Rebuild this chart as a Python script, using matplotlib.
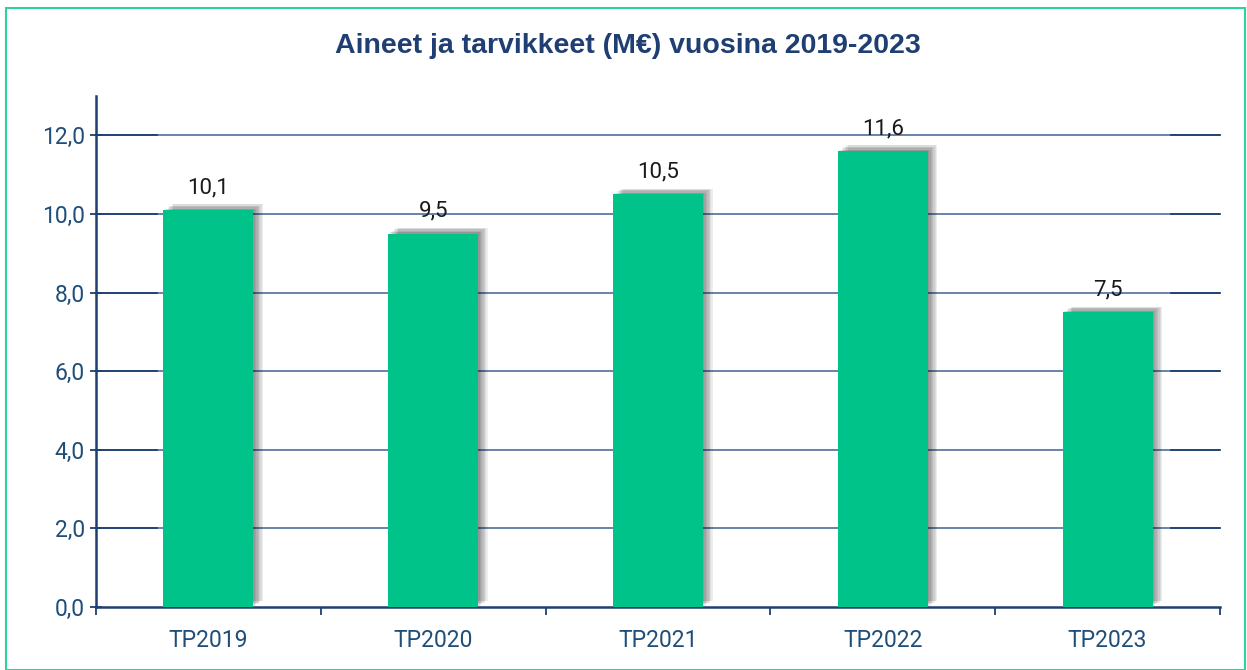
import matplotlib
matplotlib.use("Agg")
import matplotlib.pyplot as plt
import matplotlib.patheffects as pe
from matplotlib.patches import Rectangle

categories = ["TP2019", "TP2020", "TP2021", "TP2022", "TP2023"]
values = [10.1, 9.5, 10.5, 11.6, 7.5]
yticks = [0, 2, 4, 6, 8, 10, 12]
title = "Aineet ja tarvikkeet (M€) vuosina 2019-2023"

navy = "#1f3f73"
tickc = "#1f4e79"
barc = "#00c389"
lab_font = "Roboto"

fig = plt.figure(figsize=(12.47, 6.70), dpi=100)
fig.patches.append(Rectangle((6/1247, 0.0), (1245-6)/1247, (670-8)/670, transform=fig.transFigure,
                             fill=False, edgecolor="#2fd39a", linewidth=1.5))
ax = fig.add_axes([96/1247, 63/670, (1220-96)/1247, (607-96)/670])

x = list(range(len(categories)))
bars = ax.bar(x, values, width=0.4, color=barc, zorder=3)
shadow = [pe.SimplePatchShadow(offset=(dx, dy), shadow_rgbFace="#000000", alpha=0.07)
          for dx, dy in [(1, 1), (2, 1), (3, 2), (4, 3), (5, 3), (6, 4), (7, 4)]]
for b in bars:
    b.set_path_effects(shadow + [pe.Normal()])

for xi, v in zip(x, values):
    ax.text(xi, v + 0.3, f"{v:.1f}".replace(".", ","), ha="center", va="bottom",
            fontsize=16, family=lab_font, color="#1a1a1a", zorder=4)

ax.set_xlim(-0.5, len(categories) - 0.5)
ax.set_ylim(0, 13)
ax.set_yticks(yticks)
ax.set_yticklabels([f"{t:.1f}".replace(".", ",") for t in yticks], family=lab_font,
                   fontsize=16.5, color=tickc)
for t in yticks[1:]:
    ax.axhline(t, color="#5a7ba3", linewidth=1.3, zorder=1)
    ax.plot([-0.5, -0.23], [t, t], color=navy, linewidth=1.3, zorder=2, clip_on=False)
    ax.plot([4.28, 4.5], [t, t], color=navy, linewidth=1.3, zorder=2, clip_on=False)

ax.set_xticks(x)
ax.set_xticklabels(categories, family=lab_font, fontsize=16.5, color=tickc)
ax.tick_params(axis="x", length=0, pad=16)
ax.set_xticks([i - 0.5 for i in range(len(categories) + 1)], minor=True)
ax.tick_params(axis="x", which="minor", length=6, width=1.3, color=navy, direction="out")
ax.tick_params(axis="y", length=8, width=1.3, color=navy, direction="inout", pad=4)

for s in ["top", "right"]:
    ax.spines[s].set_visible(False)
for s in ["left", "bottom"]:
    ax.spines[s].set_color(navy)
    ax.spines[s].set_linewidth(1.8)

fig.text(628/1247, 1 - 46/670, title, ha="center", va="center", fontsize=20.5,
         fontweight="bold", family="Liberation Sans", color=navy)

fig.savefig("out.png", dpi=100)
